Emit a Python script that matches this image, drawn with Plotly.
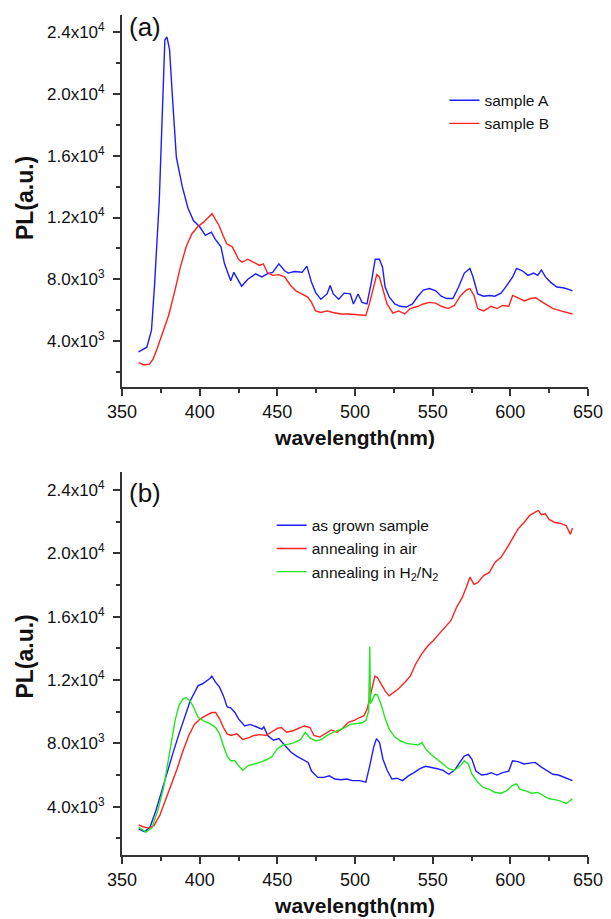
import plotly.graph_objects as go

# ---------------- data: panel (a) ----------------
wl_a_A = [360.7, 364, 366, 369, 371, 374, 376, 377.6, 378.9, 380.6, 382.6, 385, 388.8, 392.5, 396,
          400, 403.7, 407.5, 410, 413.7, 416, 420, 422, 425, 427, 431, 436, 440, 443.5, 447, 451,
          454.7, 457, 461, 466, 469, 472, 474.6, 478, 482, 484, 486, 489.5, 493, 497, 499, 500,
          502, 504.5, 507.7, 510.7, 513, 515.7, 517.7, 519.4, 522, 525.6, 529, 533, 537, 540.5,
          544, 548, 552, 555.5, 559, 563, 566.7, 570.4, 574, 576, 579, 582.8, 586.6, 590, 594,
          597.8, 601.5, 604, 607.7, 611.4, 615, 617.6, 620, 622.6, 626, 630, 634, 637.6, 640]
pl_a_A = [3300, 3500, 3600, 4700, 7700, 13100, 18500, 23500, 23700, 22900, 19600, 15900, 14000, 12600, 11800,
          11400, 10850, 11050, 10600, 10100, 9000, 7900, 8450, 7900, 7550, 8000, 8350, 8150, 8350, 8450, 9000,
          8550, 8400, 8500, 8450, 8850, 7800, 7150, 6700, 7050, 7600, 7050, 6700, 7100, 7050, 6400, 6600,
          7050, 6500, 6400, 7900, 9300, 9300, 8800, 7500, 6850, 6400, 6250, 6200, 6400, 6900,
          7300, 7400, 7250, 6900, 6750, 6750, 7500, 8400, 8700, 8150, 7050, 6900, 6950, 6900, 7100,
          7600, 8150, 8700, 8550, 8250, 8400, 8250, 8600, 8150, 7800, 7500, 7450, 7350, 7250]

wl_a_B = [360.7, 364, 367.7, 370, 372.6, 376, 380, 383.8, 387.6, 391.3, 395, 398.8, 402.5, 406, 408,
          410, 412.4, 415, 417.4, 421, 425, 427.4, 431, 434.8, 438.5, 441, 443.5, 447, 451, 454.7,
          458.5, 462, 466, 469.6, 472, 474.6, 478, 482, 485.8, 490.8, 495.8, 500.7, 507, 509.5, 512,
          514, 515.7, 518, 520.6, 524.4, 528, 532, 535.6, 540.5, 544, 548, 552, 555.5, 560, 564,
          567.7, 571.6, 574, 576.6, 579, 582.8, 587.8, 591.5, 595, 599, 601.5, 605, 609, 613,
          616.4, 620, 624, 627.6, 632.6, 636, 640]
pl_a_B = [2600, 2450, 2500, 2830, 3500, 4550, 5650, 7150, 8800, 10100, 10950, 11400, 11700, 12050, 12250,
          11900, 11500, 10850, 10300, 10100, 9300, 9100, 9300, 9100, 8900, 9000, 8450, 8250, 8300, 8150,
          7600, 7250, 7050, 6850, 6500, 5950, 5850, 5950, 5850, 5750, 5750, 5700, 5650, 6500, 7600,
          8300, 8150, 7250, 6400, 5800, 5950, 5750, 6100, 6250, 6400, 6500, 6450, 6250, 6100, 6300,
          6900, 7300, 7400, 6950, 6100, 5950, 6250, 6100, 6300, 6250, 6950, 6800, 6600, 6750,
          6800, 6550, 6300, 6100, 5950, 5850, 5750]

# ---------------- data: panel (b) ----------------
wl_b_grown = [360.7, 364.4, 368, 371.8, 375.6, 379.3, 383, 386.7, 390.4, 394, 396.6, 399, 401.6, 404, 406.6,
              407.8, 410.3, 412.8, 415.3, 417.7, 420, 422.7, 425, 429, 432.6, 436.4, 440, 441.3, 443.8,
              447.5, 451, 455, 458.7, 462.4, 466, 469.8, 472, 476, 480, 483.5, 487, 491, 494.7, 498.4,
              503, 507, 509.5, 512, 513.8, 515.8, 518, 520.7, 523.7, 527, 530.6, 534.4, 538, 541.8,
              545.5, 549, 553, 556.7, 560.4, 564, 568, 570.3, 573, 575.3, 577.8, 581.5, 585, 587.7,
              591.4, 595, 599, 601.4, 605, 608.8, 612.5, 616, 620, 623.7, 627.4, 631, 635, 640]
pl_b_grown = [2600, 2420, 2700, 3750, 5000, 6300, 7450, 8600, 9650, 10700, 11200, 11650, 11750, 11900, 12100,
              12250, 11850, 11550, 11000, 10300, 10250, 9950, 9550, 9100, 9200, 9050, 8900, 9050, 8500,
              8200, 8300, 7850, 7450, 7200, 7000, 6800, 6250, 5850, 5850, 5950, 5750, 5700, 5750, 5650,
              5650, 5550, 6600, 7750, 8300, 8050, 7000, 6300, 5750, 5800, 5650, 5950, 6150, 6400,
              6550, 6500, 6400, 6300, 6050, 6300, 6900, 7200, 7300, 7000, 6250, 6000, 6050, 6150,
              6000, 6150, 6250, 6900, 6850, 6700, 6750, 6800, 6500, 6250, 6050, 6000, 5850, 5650]

wl_b_air = [360.7, 363, 367, 370.6, 374.3, 378, 381.8, 385.5, 389, 393, 396.6, 400.4, 404, 407.8, 410.3,
            412.8, 415.3, 417.7, 420, 424, 427.7, 431.4, 435, 439, 442.6, 446.3, 450, 452.5, 456, 460,
            463.6, 467.4, 471, 473.6, 477.3, 481, 484.7, 488.5, 492, 496, 499.6, 503.3, 505.8, 507.8,
            509.5, 511.3, 512.8, 514.5, 517, 519.5, 522, 524.4, 528, 532, 535.6, 539, 543, 546.8,
            550.5, 554, 558, 561.7, 565.4, 569, 571.6, 574, 576.6, 579, 582.8, 586.5, 590.2, 594,
            597.6, 601.4, 605, 608.8, 612.5, 616, 618, 620, 622.5, 625, 628.7, 632.4, 636, 638.7, 640]
pl_b_air = [2850, 2750, 2650, 2800, 3450, 4400, 5350, 6400, 7450, 8500, 9200, 9550, 9750, 9950, 9950,
            9550, 9000, 8600, 8500, 8600, 8250, 8350, 8500, 8550, 8500, 8700, 8950, 9000, 8700, 8800,
            8950, 9100, 9000, 8500, 8400, 8600, 8850, 8700, 8950, 9350, 9450, 9650, 9750, 10150,
            10800, 11650, 12250, 12150, 11750, 11300, 11000, 11200, 11450, 11850, 12250, 13000, 13650, 14150,
            14500, 14900, 15350, 15750, 16600, 17200, 17850, 18500, 18050, 18150, 18600, 18800, 19450, 19750,
            20300, 20900, 21550, 21950, 22400, 22600, 22700, 22450, 22500, 22150, 21950, 21900, 21750, 21200, 21600]

wl_b_h2n2 = [360.7, 363, 365.6, 369.4, 373, 376.8, 379.3, 381.8, 384.2, 386.7, 389.2, 391.2, 393.7, 396, 399,
             402.8, 406.6, 410.3, 412.8, 415.3, 417.7, 420, 422.7, 425, 427.7, 431.4, 435, 439, 442.6,
             446.3, 450, 453.7, 457.5, 461, 465, 468, 471, 474.8, 478.5, 482, 486, 489.7, 493.4, 497,
             500.9, 504.6, 507, 508.8, 509.5, 510, 511, 512.8, 514.5, 517, 519.5, 522, 525.7, 529.4,
             533, 536.8, 540.6, 543, 545.5, 549, 553, 556.7, 560.4, 564, 568, 570.3, 573, 575.3, 579,
             582.8, 586.5, 590.2, 594, 597.6, 601.4, 604, 606.3, 610, 613.8, 617.6, 621.3, 625, 628.7,
             632.4, 636, 638.7, 640]
pl_b_h2n2 = [2700, 2550, 2400, 2700, 3750, 5200, 6600, 8050, 9450, 10400, 10800, 10900, 10700, 10300, 9650,
             9400, 9250, 9000, 8600, 7850, 7200, 6900, 6900, 6600, 6300, 6600, 6700, 6800, 6950,
             7150, 7650, 7900, 7950, 8050, 8250, 8700, 8350, 8150, 8250, 8500, 8700, 8850, 9000, 9200,
             9250, 9300, 9450, 10050, 14100, 10500, 10700, 11100, 11050, 10400, 9550, 8900, 8400, 8150,
             8000, 7950, 7900, 8050, 7650, 7300, 7000, 6700, 6400, 6300, 6600, 6900, 6700, 6050, 5550,
             5200, 5100, 4900, 4850, 5000, 5350, 5450, 5100, 5000, 4850, 4900, 4700, 4500, 4450,
             4350, 4200, 4400, 4500]

y_tickvals = [4000, 8000, 12000, 16000, 20000, 24000]
y_ticktext = ["4.0x10<sup>3</sup>", "8.0x10<sup>3</sup>", "1.2x10<sup>4</sup>",
              "1.6x10<sup>4</sup>", "2.0x10<sup>4</sup>", "2.4x10<sup>4</sup>"]
x_tickvals = [350, 400, 450, 500, 550, 600, 650]
y_title = "<b>PL(a.u.)</b>"
x_title = "<b>wavelength(nm)</b>"

# ---------------- layout helpers (screen pixels; page body adds an 8px offset) ----------------
OFF = 8
W, H = 603, 911
L = 121.5 - OFF
R = W - (588 - OFF)
T = 15 - OFF
B = H - (855 - OFF)
PH = H - T - B


def ydom(top_px, bot_px):
    top_px -= OFF
    bot_px -= OFF
    return [(H - B - bot_px) / PH, (H - B - top_px) / PH]


def cx(px):
    return (px - OFF) / W


def cy(py):
    return 1 - (py - OFF) / H


def px_to_paper_x(px):
    return (px - OFF - L) / (W - L - R)


BLUE, RED, GREEN = "#1c1cff", "#ff2020", "#22e622"
FONT = "Arial, Liberation Sans, sans-serif"
AXC = "#333333"
LW = 1.4

fig = go.Figure()
fig.add_trace(go.Scatter(x=wl_a_A, y=pl_a_A, mode="lines", name="sample A",
                         line=dict(color=BLUE, width=LW), xaxis="x", yaxis="y", legend="legend"))
fig.add_trace(go.Scatter(x=wl_a_B, y=pl_a_B, mode="lines", name="sample B",
                         line=dict(color=RED, width=LW), xaxis="x", yaxis="y", legend="legend"))
fig.add_trace(go.Scatter(x=wl_b_grown, y=pl_b_grown, mode="lines", name="as grown sample",
                         line=dict(color=BLUE, width=LW), xaxis="x2", yaxis="y2", legend="legend2"))
fig.add_trace(go.Scatter(x=wl_b_air, y=pl_b_air, mode="lines", name="annealing in air",
                         line=dict(color=RED, width=LW), xaxis="x2", yaxis="y2", legend="legend2"))
fig.add_trace(go.Scatter(x=wl_b_h2n2, y=pl_b_h2n2, mode="lines",
                         name="annealing in H<sub>2</sub>/N<sub>2</sub>",
                         line=dict(color=GREEN, width=LW), xaxis="x2", yaxis="y2", legend="legend2"))

xax = dict(range=[350, 650], tickvals=x_tickvals, ticks="outside", ticklen=7, tickwidth=1.5,
           tickcolor=AXC, showline=True, linecolor=AXC, linewidth=1.8, showgrid=False, zeroline=False,
           tickfont=dict(size=18, color="#111"), automargin=True,
           minor=dict(tickmode="linear", tick0=350, dtick=25, ticks="outside", ticklen=4,
                      tickwidth=1.5, tickcolor=AXC, showgrid=False),
           title=dict(text=x_title, font=dict(size=21, color="#111"), standoff=10))
yax = dict(tickvals=y_tickvals, ticktext=y_ticktext, ticks="outside", ticklen=7, tickwidth=1.5,
           tickcolor=AXC, showline=True, linecolor=AXC, linewidth=1.8, showgrid=False, zeroline=False,
           tickfont=dict(size=17, color="#111"), ticklabelstandoff=5,
           minor=dict(tickmode="linear", tick0=0, dtick=2000, ticks="outside", ticklen=4,
                      tickwidth=1.5, tickcolor=AXC, showgrid=False))

fig.update_layout(
    width=W, height=H, margin=dict(l=L, r=R, t=T, b=B, autoexpand=False),
    paper_bgcolor="white", plot_bgcolor="white",
    font=dict(family=FONT, color="#111"),
    xaxis=dict(xax, domain=[0, 1], anchor="y"),
    yaxis=dict(yax, domain=ydom(15, 387), range=[1020, 25120], anchor="x"),
    xaxis2=dict(xax, domain=[0, 1], anchor="y2"),
    yaxis2=dict(yax, domain=ydom(471.7, 855), range=[950, 25160], anchor="x2"),
    legend=dict(xref="container", yref="container", x=cx(444.5), y=cy(83.7), xanchor="left", yanchor="top",
                bgcolor="rgba(0,0,0,0)", font=dict(size=15.5, color="#111"), tracegroupgap=2),
    legend2=dict(xref="container", yref="container", x=cx(271.7), y=cy(508.7), xanchor="left", yanchor="top",
                 bgcolor="rgba(0,0,0,0)", font=dict(size=15.5, color="#111"), tracegroupgap=2),
    showlegend=True,
    annotations=[
        dict(text="(a)", xref="paper", yref="paper", x=px_to_paper_x(127), y=ydom(27, 27)[0],
             xanchor="left", yanchor="middle", showarrow=False, font=dict(size=26, color="#111")),
        dict(text="(b)", xref="paper", yref="paper", x=px_to_paper_x(127), y=ydom(493, 493)[0],
             xanchor="left", yanchor="middle", showarrow=False, font=dict(size=26, color="#111")),
        dict(text=y_title, xref="paper", yref="paper", x=px_to_paper_x(24), y=ydom(198.5, 198.5)[0],
             xanchor="center", yanchor="middle", textangle=-90, showarrow=False,
             font=dict(size=23, color="#111")),
        dict(text=y_title, xref="paper", yref="paper", x=px_to_paper_x(24), y=ydom(657, 657)[0],
             xanchor="center", yanchor="middle", textangle=-90, showarrow=False,
             font=dict(size=23, color="#111")),
    ],
)

fig.write_html("out.html")
